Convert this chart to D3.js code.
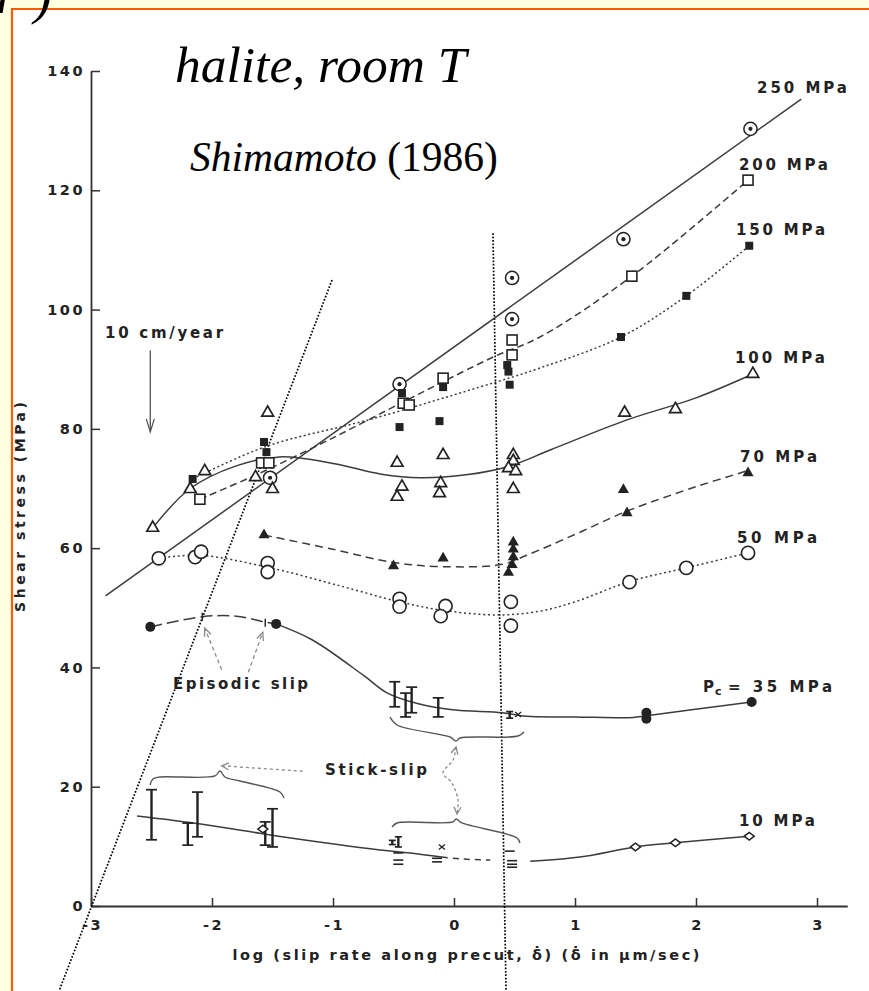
<!DOCTYPE html>
<html><head><meta charset="utf-8">
<script src="https://cdn.jsdelivr.net/npm/d3@7"></script>
<style>
html,body{margin:0;padding:0;background:#ffffe1;}
svg{display:block}
</style></head><body>
<svg id="c" width="869" height="991"></svg>
<script>
// ---------------- DATA ----------------
const xTicks = [-3, -2, -1, 0, 1, 2, 3];
const yTicks = [0, 20, 40, 60, 80, 100, 120, 140];

// 250 MPa  (dotted circles, solid straight fit)
const p250 = [[-1.52,71.8],[-0.45,87.5],[0.48,98.4],[0.48,105.3],[1.40,111.8],[2.45,130.3]];
const fit250 = [[-2.88,52.0],[2.87,135.3]];
// 200 MPa (open squares, dashed)
const p200 = [[-2.10,68.2],[-1.59,74.3],[-1.53,74.3],[-0.42,84.3],[-0.37,84.0],[-0.09,88.5],[0.48,94.9],[0.48,92.4],[1.47,105.6],[2.43,121.7]];
const fit200 = [[-2.10,68.2],[-1.58,72.8],[-1.0,78.5],[-0.42,84.5],[-0.09,87.9],[0.32,92.0],[0.71,95.4],[1.47,105.6],[2.43,121.7]];
// 150 MPa (filled squares, dotted)
const p150 = [[-2.16,71.6],[-1.57,77.8],[-1.55,76.1],[-0.43,86.0],[-0.45,80.3],[-0.12,81.3],[-0.09,87.0],[0.44,90.7],[0.45,89.6],[0.46,87.4],[1.38,95.4],[1.92,102.3],[2.44,110.7]];
const fit150 = [[-2.16,71.6],[-1.56,77.0],[-0.69,81.6],[0.21,87.0],[0.71,90.2],[1.38,95.4],[1.92,102.3],[2.44,110.7]];
// 100 MPa (open triangles, solid)
const p100 = [[-2.49,63.4],[-2.18,69.9],[-2.06,72.9],[-1.54,82.7],[-1.64,71.9],[-1.50,69.9],[-0.47,74.3],[-0.09,75.6],[-0.43,70.3],[-0.47,68.6],[-0.11,70.9],[-0.12,69.2],[0.49,75.6],[0.49,74.6],[0.45,73.4],[0.51,72.9],[0.49,69.9],[1.41,82.7],[1.83,83.3],[2.47,89.2]];
const fit100 = [[-2.49,63.4],[-2.18,70.0],[-1.8,73.8],[-1.44,75.3],[-1.0,74.2],[-0.6,72.4],[-0.28,71.8],[0.1,72.3],[0.45,73.7],[0.8,76.5],[1.43,81.5],[2.0,85.2],[2.47,89.2]];
// 70 MPa (filled triangles, dashed)
const p70 = [[-1.57,62.2],[-0.50,57.0],[-0.09,58.3],[0.49,61.0],[0.49,59.8],[0.49,58.5],[0.48,57.2],[0.45,55.9],[1.40,69.8],[1.43,65.9],[2.43,72.6]];
const fit70 = [[-1.57,62.2],[-1.0,59.8],[-0.5,57.6],[-0.1,56.9],[0.4,57.3],[0.6,58.8],[1.0,62.3],[1.43,66.2],[2.0,70.3],[2.43,73.0]];
// 50 MPa (open circles, dotted)
const p50 = [[-2.44,58.3],[-2.14,58.5],[-2.09,59.4],[-1.54,57.5],[-1.54,56.0],[-0.45,51.5],[-0.45,50.2],[-0.07,50.3],[-0.11,48.6],[0.47,51.0],[0.47,47.0],[1.45,54.3],[1.92,56.7],[2.43,59.2]];
const fit50 = [[-2.44,58.3],[-2.1,58.8],[-1.54,56.8],[-1.0,54.0],[-0.45,51.0],[-0.1,49.6],[0.35,48.8],[0.7,49.4],[1.0,51.0],[1.45,54.4],[1.92,56.7],[2.43,59.2]];
// 35 MPa (filled circles, solid; episodic + stick-slip)
const p35 = [[-2.51,46.8],[-1.47,47.3],[1.59,32.4],[1.59,31.4],[2.46,34.2]];
const fit35ep = [[-2.51,46.8],[-2.08,48.5],[-1.8,48.6],[-1.56,47.6],[-1.47,47.3]];
const ep35 = [[-2.08,48.5],[-1.56,47.5]];
const fit35 = [[-1.47,47.3],[-1.17,44.6],[-0.75,38.7],[-0.55,35.7],[-0.31,34.0],[-0.01,32.9],[0.40,32.4],[0.60,31.8],[1.0,31.7],[1.48,31.6],[1.59,31.9],[2.46,34.2]];
const bars35 = [[-0.49,33.4,37.6],[-0.40,31.7,35.7],[-0.35,32.4,36.7],[-0.13,31.7,34.9],[0.46,31.5,32.6]];
const cross35 = [[0.53,32.1]];
// 10 MPa (open diamonds, solid; stick-slip bars)
const p10 = [[-1.58,12.9],[1.50,9.9],[1.83,10.6],[2.44,11.7]];
const bars10 = [[-2.50,11.1,19.5],[-2.20,10.2,13.9],[-2.12,11.6,19.1],[-1.56,10.2,14.1],[-1.50,9.9,16.3],[-0.46,9.9,11.6],[-0.51,10.3,11.0]];
const fit10a = [[-2.62,15.1],[-2.5,14.8],[-2.08,13.7],[-1.67,12.4],[-1.45,11.7],[-0.61,9.4],[-0.36,8.9],[-0.1,8.2]];
const fit10b = [[-0.1,8.2],[0.05,7.9],[0.30,7.7]];
const fit10c = [[0.63,7.5],[1.04,8.2],[1.50,9.9],[1.83,10.6],[2.44,11.7]];
const ticks10 = [[-0.46,8.9],[-0.46,7.7],[-0.46,7.0],[-0.14,8.0],[-0.14,7.4],[0.48,7.6],[0.48,7.0],[0.48,6.5],[0.46,9.2]];
const cross10 = [[-0.10,9.9]];

// annotations (data coordinates)
const arrow10cm = [[-2.51,93.2],[-2.51,79.5]];
const epArrows = [[[-1.92,39.6],[-2.06,46.6]],[[-1.70,39.2],[-1.58,45.9]]];
const ssArrow = [[-1.25,22.6],[-1.92,23.5]];
const ssDouble = [[0.017,26.66],[-0.008,24.48],[-0.091,22.30],[-0.017,20.62],[0.033,17.77],[0.025,15.43]];
const braceA = [[-2.512,20.29],[-2.488,21.29],[-2.43,21.63],[-1.975,21.8],[-1.934,22.64],[-1.893,21.63],[-1.769,20.96],[-1.438,19.11],[-1.405,18.11]];
const braceB = [[-0.529,31.69],[-0.471,30.35],[-0.033,28.34],[0.017,27.67],[0.05,28.17],[0.529,28.5],[0.579,29.18]];
const braceC = [[-0.512,13.25],[-0.471,13.92],[-0.008,14.09],[0.017,14.59],[0.066,13.92],[0.521,11.4],[0.545,10.56]];
const guideV = [[0.322,112.8],[0.43,-14.25]];
const guideD = [[-1.008,104.96],[-3.264,-14.25]];

const seriesLabels = [
  {t:"250 MPa", x:2.504, y:136.3, w:90},
  {t:"200 MPa", x:2.355, y:123.4, w:89},
  {t:"150 MPa", x:2.331, y:112.5, w:89},
  {t:"100 MPa", x:2.322, y:91.0, w:90},
  {t:"70 MPa",  x:2.364, y:74.4, w:77},
  {t:"50 MPa",  x:2.339, y:60.9, w:80},
  {t:"10 MPa",  x:2.355, y:13.4, w:76},
  {t:"10 cm/year", x:-2.884, y:95.2, w:118},
  {t:"Episodic slip", x:-2.322, y:36.4, w:135},
  {t:"Stick-slip", x:-1.066, y:22.0, w:102}
];

// ---------------- DRAW ----------------
const ink = '#222', lineInk = '#3c3c3c', gray = '#8a8a8a';
const F = '"DejaVu Sans", "Liberation Sans", sans-serif';
const svg = d3.select('#c');
svg.append('rect').attr('width',869).attr('height',991).attr('fill','#ffffe1');
svg.append('rect').attr('x',12).attr('y',9).attr('width',857).attr('height',982).attr('fill','#fff');
svg.append('line').attr('x1',12).attr('x2',12).attr('y1',8).attr('y2',991).attr('stroke','#ff5a00').attr('stroke-width',2.2);
svg.append('line').attr('x1',11).attr('x2',869).attr('y1',9).attr('y2',9).attr('stroke','#ff5a00').attr('stroke-width',2.2);
const corner = svg.append('text').attr('x',-4).attr('y',13).attr('font-family','"Liberation Serif", serif').attr('font-style','italic')
  .attr('font-size',54).attr('fill','#000');
corner.append('tspan').text('r');
corner.append('tspan').attr('dx',17).text(')');

const x = d3.scaleLinear().domain([-3,3.25]).range([91,847.25]);
const y = d3.scaleLinear().domain([0,140]).range([906,71]);

// titles
svg.append('text').attr('x',175).attr('y',82).attr('font-family','"Liberation Serif", serif').attr('font-style','italic')
  .attr('font-size',51.5).attr('fill','#000').text('halite, room T');
const st = svg.append('text').attr('x',190).attr('y',171).attr('font-family','"Liberation Serif", serif').attr('font-size',41.5).attr('fill','#000');
st.append('tspan').attr('font-style','italic').text('Shimamoto');
st.append('tspan').text(' (1986)');

// axes
const gx = svg.append('g').attr('transform',`translate(0,${y(0)})`)
  .call(d3.axisBottom(x).tickValues(xTicks).tickSizeInner(-8).tickSizeOuter(0).tickPadding(14)
    .tickFormat(d => d < 0 ? '-' + Math.abs(d) : String(d)));
const gy = svg.append('g').attr('transform',`translate(${x(-3)},0)`)
  .call(d3.axisLeft(y).tickValues(yTicks).tickSizeInner(-9).tickSizeOuter(0).tickPadding(6));
[gx,gy].forEach(g => {
  g.select('.domain').attr('stroke','#333').attr('stroke-width',1.8);
  g.selectAll('.tick line').attr('stroke','#333').attr('stroke-width',1.5);
  g.selectAll('.tick text').attr('font-family',F).attr('font-weight','bold').attr('font-size',14.5)
    .attr('letter-spacing','2.5px').attr('fill',ink);
});
gx.selectAll('.tick text').attr('dx','1');

svg.append('text').attr('x',466).attr('y',960).attr('text-anchor','middle').attr('font-family',F)
  .attr('font-weight','bold').attr('font-size',14.5).attr('fill',ink).attr('textLength',467).attr('lengthAdjust','spacing')
  .text('log (slip rate along precut, \u03B4\u0307) (\u03B4\u0307 in \u00B5m/sec)');
svg.append('text').attr('transform','translate(25,507) rotate(-90)').attr('text-anchor','middle').attr('font-family',F)
  .attr('font-weight','bold').attr('font-size',14).attr('fill',ink).attr('textLength',210).attr('lengthAdjust','spacing')
  .text('Shear stress (MPa)');

// guide dotted overlay lines
const lineLin = d3.line().x(d=>x(d[0])).y(d=>y(d[1]));
[guideV, guideD].forEach(g => svg.append('path').attr('d', lineLin(g)).attr('fill','none')
  .attr('stroke','#000').attr('stroke-width',1.7).attr('stroke-dasharray','1.7,1.7'));

// fit curves
const curve = d3.line().x(d=>x(d[0])).y(d=>y(d[1])).curve(d3.curveCatmullRom.alpha(0.5));
function fit(data, dash, w) {
  svg.append('path').attr('d', curve(data)).attr('fill','none').attr('stroke',lineInk)
    .attr('stroke-width', w || 1.5).attr('stroke-dasharray', dash || null);
}
fit(fit250); fit(fit200,'7,4'); fit(fit150,'2,2.6'); fit(fit100); fit(fit70,'8,5'); fit(fit50,'2,2.8');
fit(fit35ep,'12,5'); fit(fit35); fit(fit10a); fit(fit10b,'6,5'); fit(fit10c);

// annotations
const annot = svg.append('g').attr('fill','none');
function arrowHead(p, q, len, w) {
  const a = Math.atan2(q[1]-p[1], q[0]-p[0]);
  const b1 = [q[0]-len*Math.cos(a)+w*Math.sin(a), q[1]-len*Math.sin(a)-w*Math.cos(a)];
  const b2 = [q[0]-len*Math.cos(a)-w*Math.sin(a), q[1]-len*Math.sin(a)+w*Math.cos(a)];
  return `M${b1[0]},${b1[1]}L${q[0]},${q[1]}L${b2[0]},${b2[1]}`;
}
const px = d => [x(d[0]), y(d[1])];
// 10 cm/year
annot.append('path').attr('d', lineLin(arrow10cm)).attr('stroke','#555').attr('stroke-width',1.3);
annot.append('path').attr('d', arrowHead(px(arrow10cm[0]), px(arrow10cm[1]), 13, 4)).attr('stroke','#555').attr('stroke-width',1.3);
// episodic arrows
epArrows.forEach(a => {
  annot.append('path').attr('d', lineLin(a)).attr('stroke',gray).attr('stroke-width',1.3).attr('stroke-dasharray','4,3');
  annot.append('path').attr('d', arrowHead(px(a[0]), px(a[1]), 8, 3.5)).attr('stroke',gray).attr('stroke-width',1.3);
});
// stick-slip arrows
annot.append('path').attr('d', lineLin(ssArrow)).attr('stroke',gray).attr('stroke-width',1.3).attr('stroke-dasharray','3,3');
annot.append('path').attr('d', arrowHead(px(ssArrow[0]), px(ssArrow[1]), 7, 3.5)).attr('stroke',gray).attr('stroke-width',1.3);
annot.append('path').attr('d', curve(ssDouble)).attr('stroke',gray).attr('stroke-width',1.3).attr('stroke-dasharray','3,2.5');
annot.append('path').attr('d', arrowHead(px(ssDouble[1]), px(ssDouble[0]), 7, 3.5)).attr('stroke',gray).attr('stroke-width',1.3);
annot.append('path').attr('d', arrowHead(px(ssDouble[4]), px(ssDouble[5]), 7, 3.5)).attr('stroke',gray).attr('stroke-width',1.3);
// braces
const braceLine = d3.line().x(d=>x(d[0])).y(d=>y(d[1])).curve(d3.curveCatmullRom.alpha(0.5));
[braceA, braceB, braceC].forEach(b => annot.append('path').attr('d', braceLine(b)).attr('stroke','#555').attr('stroke-width',1.4));

// error bars
function bars(data) {
  const g = svg.append('g').attr('stroke', ink);
  data.forEach(d => {
    const hw = (d[2]-d[1]) > 3 ? 5.5 : 3.5;
    g.append('line').attr('x1',x(d[0])).attr('x2',x(d[0])).attr('y1',y(d[1])).attr('y2',y(d[2])).attr('stroke-width',2.4);
    [d[1], d[2]].forEach(v => g.append('line').attr('x1',x(d[0])-hw).attr('x2',x(d[0])+hw).attr('y1',y(v)).attr('y2',y(v)).attr('stroke-width',1.7));
  });
}
bars(bars35); bars(bars10);
const tg = svg.append('g').attr('stroke', ink).attr('stroke-width',1.6);
ticks10.forEach(d => tg.append('line').attr('x1',x(d[0])-5).attr('x2',x(d[0])+5).attr('y1',y(d[1])).attr('y2',y(d[1])));
cross35.concat(cross10).forEach(d => {
  const cx = x(d[0]), cy = y(d[1]);
  tg.append('path').attr('d',`M${cx-3},${cy-2.5}L${cx+3},${cy+2.5}M${cx-3},${cy+2.5}L${cx+3},${cy-2.5}`).attr('stroke-width',1.3);
});
// episodic "+" ticks
ep35.forEach(d => {
  const cx = x(d[0]), cy = y(d[1]);
  tg.append('path').attr('d',`M${cx},${cy-4}L${cx},${cy+4}`).attr('stroke-width',1.4);
});

// markers
const mk = svg.append('g');
function sel(data) { return mk.append('g').selectAll(null).data(data).enter(); }
sel(p250).append('circle').attr('cx',d=>x(d[0])).attr('cy',d=>y(d[1])).attr('r',6.6).attr('fill','#fff').attr('stroke',ink).attr('stroke-width',1.5);
sel(p250).append('circle').attr('cx',d=>x(d[0])).attr('cy',d=>y(d[1])).attr('r',2.1).attr('fill',ink);
sel(p200).append('rect').attr('x',d=>x(d[0])-5).attr('y',d=>y(d[1])-5).attr('width',10).attr('height',10).attr('fill','#fff').attr('stroke',ink).attr('stroke-width',1.6);
sel(p150).append('rect').attr('x',d=>x(d[0])-4).attr('y',d=>y(d[1])-4).attr('width',8).attr('height',8).attr('fill',ink);
const tri = d3.symbol().type(d3.symbolTriangle);
sel(p100).append('path').attr('d',tri.size(60)()).attr('transform',d=>`translate(${x(d[0])},${y(d[1])})`).attr('fill','#fff').attr('stroke',ink).attr('stroke-width',1.7);
sel(p70).append('path').attr('d',tri.size(54)()).attr('transform',d=>`translate(${x(d[0])},${y(d[1])})`).attr('fill',ink);
sel(p50).append('circle').attr('cx',d=>x(d[0])).attr('cy',d=>y(d[1])).attr('r',6.6).attr('fill','#fff').attr('stroke',ink).attr('stroke-width',1.6);
sel(p35).append('circle').attr('cx',d=>x(d[0])).attr('cy',d=>y(d[1])).attr('r',5).attr('fill',ink);
sel(p10).append('path').attr('d','M-5,0L0,-3.8L5,0L0,3.8Z').attr('transform',d=>`translate(${x(d[0])},${y(d[1])})`).attr('fill','#fff').attr('stroke',ink).attr('stroke-width',1.5);

// labels
const lg = svg.append('g').attr('font-family',F).attr('font-weight','bold').attr('font-size',15).attr('fill',ink);
seriesLabels.forEach(l => lg.append('text').attr('x',x(l.x)).attr('y',y(l.y)).attr('textLength',l.w).attr('lengthAdjust','spacing').text(l.t));
// Pc = 35 MPa
const pcx = 2.058, pcy = 35.9;
lg.append('text').attr('x',x(pcx)).attr('y',y(pcy)).text('P');
lg.append('text').attr('x',x(pcx)+12).attr('y',y(pcy)+3).attr('font-size',11).text('c');
lg.append('text').attr('x',x(pcx)+25).attr('y',y(pcy)).attr('textLength',104).attr('lengthAdjust','spacing').text('= 35 MPa');
</script>
</body></html>
